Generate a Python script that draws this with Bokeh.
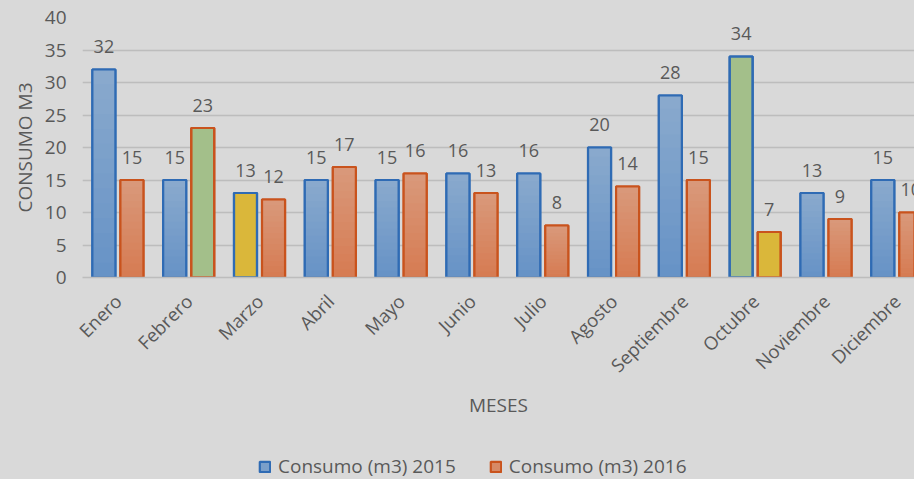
import numpy as np
from bokeh.plotting import figure
from bokeh.layouts import column
from bokeh.models import Range1d, FixedTicker, ColumnDataSource, Legend, LegendItem
from bokeh.transform import dodge
from bokeh.core.properties import value
from bokeh.embed import file_html
from bokeh.resources import INLINE
import math

months = ["Enero", "Febrero", "Marzo", "Abril", "Mayo", "Junio", "Julio",
          "Agosto", "Septiembre", "Octubre", "Noviembre", "Diciembre"]
consumo_2015 = [32, 15, 13, 15, 15, 16, 16, 20, 28, 34, 13, 15]
consumo_2016 = [15, 23, 12, 17, 16, 13, 8, 14, 15, 7, 9, 10]
series_names = ["Consumo (m3) 2015", "Consumo (m3) 2016"]
y_ticks = [0, 5, 10, 15, 20, 25, 30, 35, 40]

BG = "#d9d9d9"
TXT = "#595959"
GRID = "#bdbdbd"
FONT = "Open Sans"
GREEN = "#a3bf8a"
YELLOW = "#dab73a"

styles = [
    dict(top="#8aaacd", bottom="#6692c6", line="#2f6bb4", mid="#7a9fca", off=-0.198),
    dict(top="#d9997c", bottom="#d67b51", line="#c9531d", mid="#d78a66", off=0.198),
]
BAR_W = 0.325
N_STRIPS = 14

xc = [i + 0.5 for i in range(len(months))]

MAIN_H = 443
p = figure(width=914, height=MAIN_H, output_backend="svg", toolbar_location=None,
           x_range=Range1d(0, 11.75), y_range=Range1d(0, 40),
           background_fill_color=BG, border_fill_color=BG, outline_line_color=None,
           min_border_left=82, min_border_top=17, min_border_right=0,
           min_border_bottom=MAIN_H - 17 - 260)


def hex2rgb(h):
    h = h.lstrip("#")
    return [int(h[i:i + 2], 16) for i in (0, 2, 4)]


def lerp(c1, c2, t):
    a, b = hex2rgb(c1), hex2rgb(c2)
    return "#%02x%02x%02x" % tuple(int(round(a[k] + (b[k] - a[k]) * t)) for k in range(3))


for vals, st in zip([consumo_2015, consumo_2016], styles):
    imax = int(np.argmax(vals))
    imin = int(np.argmin(vals))
    fills = []
    for i in range(len(vals)):
        if i == imax:
            fills.append(GREEN)
        elif i == imin:
            fills.append(YELLOW)
        else:
            fills.append(st["mid"])
    src = ColumnDataSource(dict(xc=xc, v=vals, fill=fills, lbl=[str(v) for v in vals]))
    p.vbar(x=dodge("xc", st["off"]), top="v", bottom=0, width=BAR_W, source=src,
           fill_color="fill", line_color=st["line"], line_width=2.2)
    # gradient strips for regular bars
    sx, sb, st_, sc = [], [], [], []
    for i, v in enumerate(vals):
        if i in (imax, imin):
            continue
        for k in range(N_STRIPS):
            sx.append(xc[i])
            sb.append(v * k / N_STRIPS)
            st_.append(v * (k + 1.08) / N_STRIPS if k < N_STRIPS - 1 else v)
            sc.append(lerp(st["bottom"], st["top"], (k + 0.5) / N_STRIPS))
    ssrc = ColumnDataSource(dict(xc=sx, b=sb, t=st_, c=sc))
    p.vbar(x=dodge("xc", st["off"]), top="t", bottom="b", width=BAR_W, source=ssrc,
           fill_color="c", line_color=None)
    # outline
    p.vbar(x=dodge("xc", st["off"]), top="v", bottom=0, width=BAR_W, source=src,
           fill_color=None, line_color=st["line"], line_width=2.2)
    # value labels
    p.text(x=dodge("xc", st["off"]), y="v", text="lbl", source=src,
           text_align="center", text_baseline="alphabetic", y_offset=-23,
           text_font=value(FONT), text_font_size="18px", text_color=TXT)

# grid
p.xgrid.grid_line_color = None
p.ygrid.grid_line_color = GRID
p.ygrid.grid_line_width = 1.6
p.ygrid.ticker = FixedTicker(ticks=y_ticks)

# y axis
p.yaxis.ticker = FixedTicker(ticks=y_ticks)
p.yaxis.axis_line_color = None
p.yaxis.major_tick_line_color = None
p.yaxis.minor_tick_line_color = None
p.yaxis.major_tick_out = 0
p.yaxis.major_label_standoff = 16
p.yaxis.major_label_text_font = FONT
p.yaxis.major_label_text_font_size = "19px"
p.yaxis.major_label_text_color = TXT
p.yaxis.axis_label = "CONSUMO M3"
p.yaxis.axis_label_text_font = FONT
p.yaxis.axis_label_text_font_size = "19px"
p.yaxis.axis_label_text_font_style = "normal"
p.yaxis.axis_label_text_color = TXT
p.yaxis.axis_label_standoff = 4

# x axis
p.xaxis.ticker = FixedTicker(ticks=xc)
p.xaxis.major_label_overrides = {x: m for x, m in zip(xc, months)}
p.xaxis.axis_line_color = GRID
p.xaxis.axis_line_width = 1.6
p.xaxis.major_tick_line_color = None
p.xaxis.minor_tick_line_color = None
p.xaxis.major_tick_out = 0
p.xaxis.major_label_orientation = math.pi / 4
p.xaxis.major_label_standoff = 20
p.xaxis.major_label_text_font = FONT
p.xaxis.major_label_text_font_size = "18.5px"
p.xaxis.major_label_text_color = TXT
p.xaxis.axis_label = "MESES"
p.xaxis.axis_label_text_font = FONT
p.xaxis.axis_label_text_font_size = "19px"
p.xaxis.axis_label_text_font_style = "normal"
p.xaxis.axis_label_text_color = TXT
p.xaxis.axis_label_standoff = 3

# legend strip below the chart
LEG_H = 479 - MAIN_H
lf = figure(width=914, height=LEG_H, output_backend="svg", toolbar_location=None,
            x_range=Range1d(0, 1), y_range=Range1d(0, 1),
            background_fill_color=BG, border_fill_color=BG, outline_line_color=None,
            min_border=0)
lf.axis.visible = False
lf.grid.visible = False
leg_r = []
for st in styles:
    dummy = ColumnDataSource(dict(x=[float("nan")], top=[float("nan")]))
    leg_r.append(lf.vbar(x="x", top="top", width=0.1, source=dummy, fill_color=st["mid"],
                         line_color=st["line"], line_width=2.2))
legend = Legend(items=[LegendItem(label=series_names[0], renderers=[leg_r[0]]),
                       LegendItem(label=series_names[1], renderers=[leg_r[1]])],
                orientation="horizontal", location=(176, 0),
                background_fill_alpha=0.0, border_line_color=None,
                label_text_font=FONT, label_text_font_size="19px", label_text_color=TXT,
                glyph_width=13, glyph_height=13, label_standoff=7, spacing=33,
                padding=0, margin=0)
lf.add_layout(legend)

layout = column(p, lf, spacing=0, styles={"background-color": BG})
open("out.html", "w").write(file_html(layout, INLINE))
